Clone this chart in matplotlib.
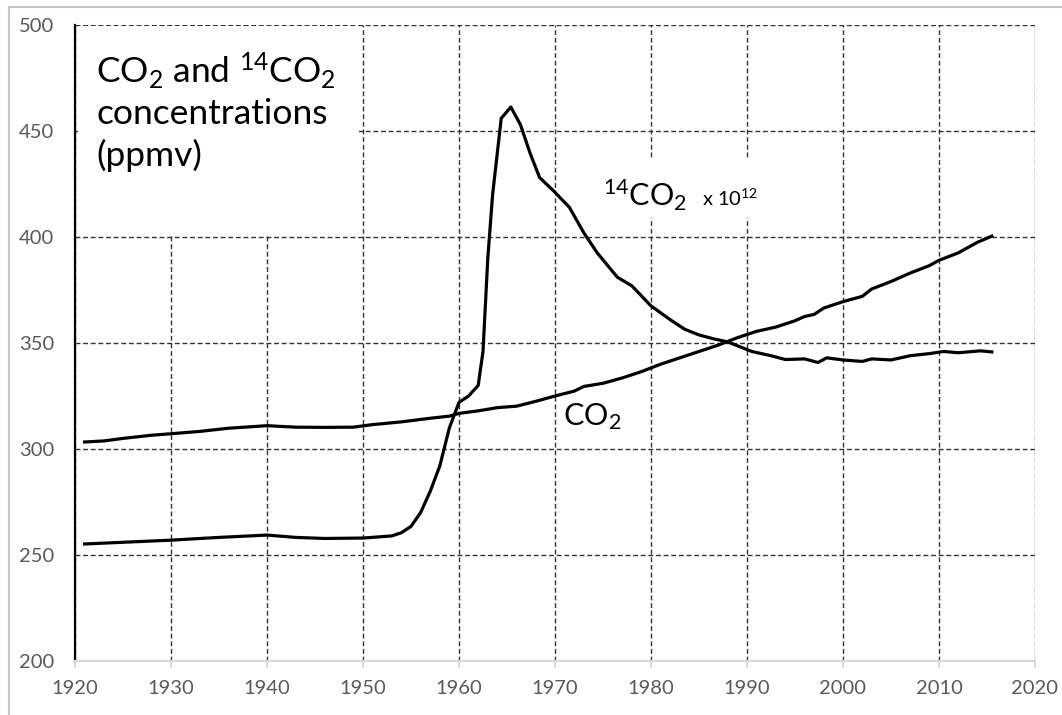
import matplotlib.pyplot as plt
from matplotlib.lines import Line2D
from matplotlib.patches import Rectangle

plt.rcParams['font.family'] = ['Lato', 'DejaVu Sans']
plt.rcParams['mathtext.default'] = 'regular'

# ---------------------------------------------------------------
# data (ppmv)
co2_years = [1921, 1923, 1925, 1928, 1930, 1933, 1936, 1940, 1943, 1946, 1949,
             1951, 1954, 1957, 1959, 1960, 1962, 1964, 1966, 1968, 1970, 1972,
             1973, 1975, 1977, 1979, 1981, 1983, 1985, 1987, 1989, 1991, 1993,
             1995, 1996, 1997, 1998, 2000, 2002, 2003, 2005, 2007, 2009, 2010,
             2012, 2014, 2015.5]
co2_ppmv = [303.3, 303.8, 305.0, 306.5, 307.2, 308.3, 309.8, 311.0, 310.3, 310.2, 310.3,
            311.5, 312.8, 314.5, 315.5, 316.8, 318.0, 319.5, 320.2, 322.5, 325.0, 327.3,
            329.5, 331.0, 333.5, 336.5, 340.0, 343.0, 346.0, 349.0, 352.5, 355.5, 357.5,
            360.5, 362.5, 363.5, 366.5, 369.5, 372.0, 375.5, 379.0, 383.0, 386.5, 389.0,
            392.5, 397.5, 400.4]

c14_years = [1921, 1925, 1930, 1935, 1940, 1943, 1946, 1950, 1953, 1954, 1955,
             1956, 1957, 1958, 1959, 1960, 1961, 1962, 1962.5, 1963, 1963.5, 1964.4,
             1965.4, 1966.4, 1967.4, 1968.4, 1969.8, 1971.5, 1973, 1974.4, 1976.5,
             1978, 1980, 1982, 1983.5, 1985, 1986.5, 1988, 1990.5, 1992.5, 1994, 1996,
             1997.4, 1998.3, 2000, 2002, 2003, 2005, 2007, 2009, 2010.5, 2012,
             2014.3, 2015.5]
c14_ppmv = [255.2, 256.0, 257.0, 258.3, 259.4, 258.3, 257.8, 258.0, 259.0, 260.5, 263.5,
            270.0, 280.0, 292.0, 310.0, 322.0, 325.0, 330.0, 346.0, 390.0, 420.0, 456.0,
            461.3, 453.0, 439.6, 428.0, 422.0, 414.0, 402.0, 392.5, 381.0,
            377.0, 367.5, 361.0, 356.5, 353.8, 352.0, 350.5, 346.0, 344.0, 342.2, 342.5,
            340.8, 343.0, 342.0, 341.3, 342.5, 342.0, 344.0, 345.0, 346.0, 345.4,
            346.3, 345.8]

x_ticks = list(range(1920, 2021, 10))
y_ticks = list(range(200, 501, 50))

# ---------------------------------------------------------------
fig = plt.figure(figsize=(10.62, 7.15), dpi=100)
ax = fig.add_axes([75 / 1062, 1 - 661 / 715, 960 / 1062, 636 / 715])

ax.plot(co2_years, co2_ppmv, color='black', lw=2.3, zorder=4, solid_joinstyle='round')
ax.plot(c14_years, c14_ppmv, color='black', lw=2.3, zorder=4, solid_joinstyle='round')

ax.set_xlim(1920, 2020)
ax.set_ylim(200, 500)
ax.set_xticks(x_ticks)
ax.set_yticks(y_ticks)
ax.grid(True, color='#333333', lw=1.0, linestyle=(0, (3.5, 2)), zorder=1)
ax.set_axisbelow(True)

for s in ['top', 'right']:
    ax.spines[s].set_visible(False)
ax.spines['left'].set_color('black')
ax.spines['left'].set_linewidth(1.6)
ax.spines['bottom'].set_color('#d9d9d9')
ax.spines['bottom'].set_linewidth(1.6)
ax.tick_params(axis='x', colors='#d9d9d9', length=5, width=1.5, pad=9,
               labelcolor='#595959', labelsize=14.5)
ax.tick_params(axis='y', length=0, pad=15, labelcolor='#595959', labelsize=14.5)

# white boxes behind the labels hide the grid
ax.add_patch(Rectangle((1920.3, 401), 29.3, 98.5, facecolor='white',
                       edgecolor='none', zorder=2))
ax.add_patch(Rectangle((1975, 409), 20.5, 27.5, facecolor='white',
                       edgecolor='none', zorder=2))

ax.text(1922.2, 472.8, 'CO$_2$ and $^{14}$CO$_2$', fontsize=25.5, zorder=5)
ax.text(1922.2, 453.5, 'concentrations', fontsize=25.5, zorder=5)
ax.text(1922.2, 433.5, '(ppmv)', fontsize=25.5, zorder=5)

ax.text(1975.0, 414.7, '$^{14}$CO$_2$', fontsize=22, zorder=5)
ax.text(1985.3, 414.7, 'x 10$^{12}$', fontsize=14.5, zorder=5)
ax.text(1970.8, 311.0, 'CO$_2$', fontsize=22, zorder=5)

# outer chart frame
fig.add_artist(Line2D([9 / 1062, 1.0], [1 - 7 / 715, 1 - 7 / 715],
                      transform=fig.transFigure, color='#c8c8c8', lw=1.5))
fig.add_artist(Line2D([9 / 1062, 9 / 1062], [0.0, 1 - 7 / 715],
                      transform=fig.transFigure, color='#c8c8c8', lw=1.5))

fig.savefig('out.png', dpi=100)
